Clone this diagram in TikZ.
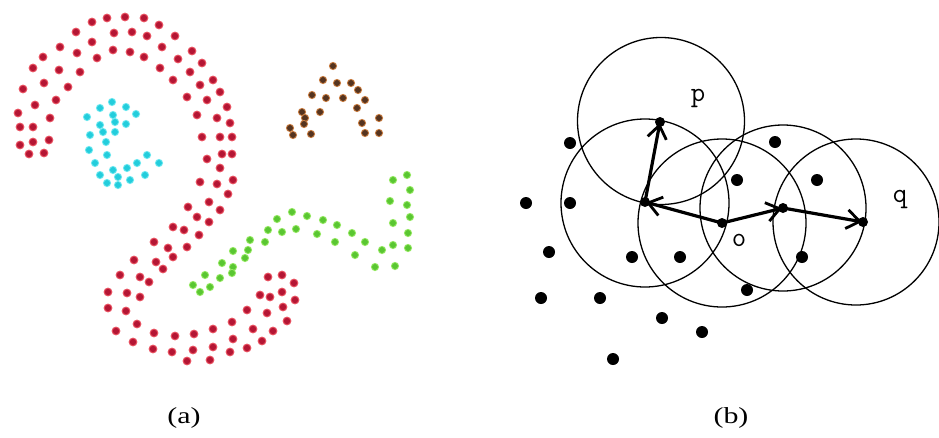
\documentclass[tikz,border=0pt]{standalone}
\usepackage{fontspec}
\setmainfont{Liberation Serif}
\usetikzlibrary{arrows.meta}
\definecolor{redcore}{RGB}{180,22,52}
\definecolor{redhalo}{RGB}{232,80,95}
\definecolor{cyancore}{RGB}{35,205,220}
\definecolor{cyanhalo}{RGB}{110,232,240}
\definecolor{browncore}{RGB}{85,52,32}
\definecolor{brownhalo}{RGB}{200,125,65}
\definecolor{greencore}{RGB}{90,198,50}
\definecolor{greenhalo}{RGB}{150,232,100}
\tikzset{
  ring/.style={draw=black, line width=1.3pt},
  bigpt/.style={fill=black},
  reach/.style={line width=3.2pt, -{Straight Barb[length=13pt,width=19pt,line width=2.8pt]}, shorten >=1pt},
  ptlabel/.style={font=\ttfamily\fontsize{28}{28}\selectfont, inner sep=0pt},
  caption/.style={font=\fontsize{23}{27}\selectfont, inner sep=0pt}
}
\begin{document}
\begin{tikzpicture}[x=1pt,y=-1pt]
\useasboundingbox (0,0) rectangle (939,437);
\fill[white] (0,0) rectangle (939,437);

% ---------- panel (a) ----------
% red clusters
\foreach \x/\y in {92/22,107/18,125/17,144/18,159/25,
 76/32,114/33,132/32,147/36,175/36,
 60/47,92/42,77/53,97/58,113/50,130/52,144/57,162/47,192/51,
 43/57,33/68,59/70,80/72,160/68,178/59,202/63,
 23/89,44/83,68/87,173/80,190/72,200/85,213/80,
 35/105,56/100,187/97,207/100,220/92,
 18/113,50/118,197/115,217/118,227/107,
 20/127,33/127,230/123,
 20/145,33/142,49/140,202/137,220/137,232/137,
 29/154,44/153,207/159,222/154,232/154,
 220/168,200/182,217/184,233/180,228/194,
 188/207,209/202,220/210,197/217,209/222,173/227,184/230,199/235,
 154/242,168/248,187/247,173/257,134/260,156/262,163/269,
 120/275,140/277,149/282,108/292,127/293,140/297,108/308,126/311,
 137/324,116/331,154/333,175/336,194/334,213/329,232/322,
 133/342,153/349,172/352,193/350,213/347,233/339,187/361,210/360,230/352,
 268/277,282/275,294/283,260/295,270/297,282/292,295/300,
 247/310,267/313,283/307,253/329,273/331,287/321,262/341,247/348}
{ \fill[redhalo] (\x,\y) circle (4.4); \fill[redcore] (\x,\y) circle (3.2); }

% cyan cluster
\foreach \x/\y in {112/102,100/108,126/107,87/117,113/115,136/114,100/125,115/122,126/124,
 90/135,103/132,115/132,106/142,89/150,107/155,147/155,137/163,159/163,95/163,
 113/170,127/168,145/175,100/175,118/177,130/180,107/183,118/185}
{ \fill[cyanhalo] (\x,\y) circle (4.1); \fill[cyancore] (\x,\y) circle (3.0); }

% brown cluster
\foreach \x/\y in {333/66,323/80,337/83,351/83,358/90,312/95,326/98,343/98,365/100,
 302/112,320/112,357/108,305/118,304/124,362/123,379/118,290/128,293/135,311/134,365/133,379/133}
{ \fill[brownhalo] (\x,\y) circle (4.1); \fill[browncore] (\x,\y) circle (3.0); }

% green cluster
\foreach \x/\y in {407/175,393/180,410/190,390/201,407/205,410/217,393/223,408/233,393/245,408/248,
 382/250,365/242,352/233,337/225,323/220,307/216,292/212,277/219,268/230,282/232,296/229,
 317/234,335/242,355/255,375/267,395/266,265/242,250/240,233/251,248/250,222/263,233/267,
 245/258,205/275,220/278,232/273,193/285,210/287,200/292}
{ \fill[greenhalo] (\x,\y) circle (4.1); \fill[greencore] (\x,\y) circle (3.0); }

\node[caption] (capa) at (184,418) {\scalebox{1.3}[1]{(a)}};

% ---------- panel (b) ----------
\coordinate (p) at (660,122);
\coordinate (a1) at (645,202);
\coordinate (o) at (722,223);
\coordinate (a2) at (783,208);
\coordinate (q) at (863,222);

\draw[ring] (661,121) circle (83.5);
\draw[ring] (645,203) circle (84);
\draw[ring] (722,223) circle (84);
\draw[ring] (783,208) circle (83);
\draw[ring] (856,222) circle (83);

\foreach \x/\y in {526/203,570/203,570/143,549/252,632/257,680/257,541/298,600/298,
 662/318,702/332,613/359,747/290,737/180,775/142,817/180,802/257}
{ \fill[bigpt] (\x,\y) circle (6); }

\foreach \c in {p,a1,o,a2,q} { \fill[bigpt] (\c) circle (5); }

\draw[reach] (a1) -- (p);
\draw[reach] (o) -- (a1);
\draw[reach] (o) -- (a2);
\draw[reach] (a2) -- (q);

\node[ptlabel] (lp) at (698,98) {p};
\node[ptlabel] (lq) at (900,199) {q};
\node[ptlabel] (lo) at (739,240) {o};

\node[caption] (capb) at (731,418) {\scalebox{1.3}[1]{(b)}};
\end{tikzpicture}
\end{document}
